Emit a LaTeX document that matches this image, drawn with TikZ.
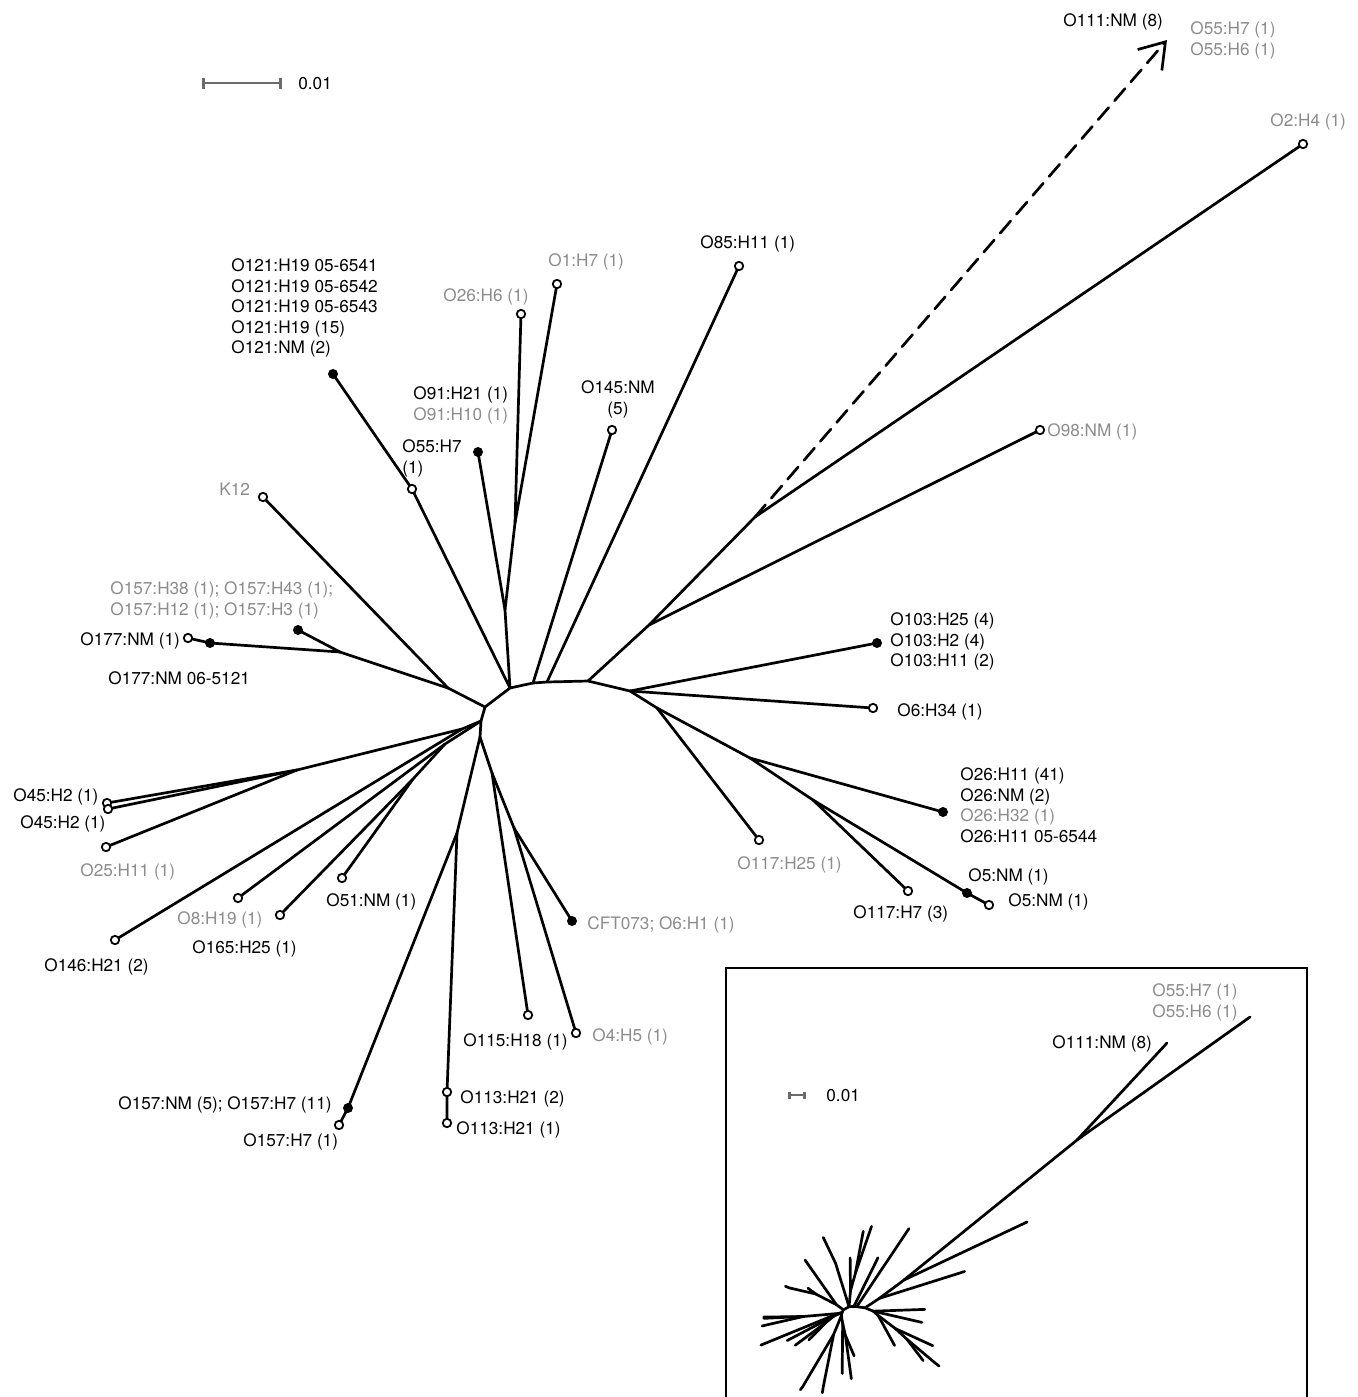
\documentclass[tikz,border=0pt]{standalone}
\usepackage{fontspec}
\setmainfont{TeX Gyre Heros}
\usetikzlibrary{arrows.meta}

\definecolor{labelgray}{gray}{0.55}
\definecolor{bargray}{gray}{0.42}
\newcommand{\labfont}{\fontsize{8.6}{10.25}\selectfont}

\tikzset{
	branch/.style={line width=1.35pt, line join=round, line cap=round},
	leaf/.style={circle, draw, fill=white, line width=0.9pt, inner sep=0pt, minimum size=4.2pt},
	multi/.style={circle, fill=black, inner sep=0pt, minimum size=5pt},
	lab/.style={anchor=base west, inner sep=0pt, font=\labfont},
	grp/.style={anchor=north west, align=left, inner sep=0pt, font=\labfont},
	faint/.style={text=labelgray},
}

% the tree (pixel coordinates, y downwards); #1 = prefix of the point names
\newcommand{\drawtree}[1]{%
	% === inner points ===
	\coordinate (#1A)   at (485,707);	\coordinate (#1L1)  at (481,721);
	\coordinate (#1L1b) at (480,737);	\coordinate (#1L0)  at (462,729);
	\coordinate (#1M1)  at (297,770);	\coordinate (#1L2)  at (445,744);
	\coordinate (#1L3)  at (413,779);	\coordinate (#1D1)  at (457,833);
	\coordinate (#1D2)  at (492,773);	\coordinate (#1D3)  at (514,828);
	\coordinate (#1J1)  at (448,688);	\coordinate (#1J2)  at (340,652);
	\coordinate (#1P1)  at (510,688);	\coordinate (#1P2)  at (533,683);
	\coordinate (#1P3)  at (547,682);	\coordinate (#1P4)  at (588,681);
	\coordinate (#1P5)  at (630,691);	\coordinate (#1P6)  at (657,708);
	\coordinate (#1Q)   at (505,610);	\coordinate (#1R)   at (515,523);
	\coordinate (#1N1)  at (649,625);	\coordinate (#1N2)  at (755,517);
	\coordinate (#1T1)  at (750,758);	\coordinate (#1T2)  at (813,800);
	% === leaf points ===
	\coordinate (#1o121)   at (333,374);	\coordinate (#1o55)    at (412,489);
	\coordinate (#1o91)    at (478,452);	\coordinate (#1o26h6)  at (521,314);
	\coordinate (#1o1)     at (557,284);	\coordinate (#1o145)   at (612,430);
	\coordinate (#1o85)    at (739,266);	\coordinate (#1o2)     at (1303,144);
	\coordinate (#1o98)    at (1040,430);	\coordinate (#1o103)   at (877,643);
	\coordinate (#1o6h34)  at (873,708);	\coordinate (#1o26)    at (943,812);
	\coordinate (#1o117a)  at (759,840);	\coordinate (#1o117b)  at (908,891);
	\coordinate (#1o5a)    at (967,893);	\coordinate (#1o5b)    at (989,905);
	\coordinate (#1cft)    at (572,921);	\coordinate (#1o4)     at (576,1033);
	\coordinate (#1o115)   at (528,1015);	\coordinate (#1o113a)  at (447,1092);
	\coordinate (#1o113b)  at (447,1123);	\coordinate (#1o157a)  at (348,1108);
	\coordinate (#1o157b)  at (339,1125);	\coordinate (#1o51)    at (342,878);
	\coordinate (#1o165)   at (280,915);	\coordinate (#1o8)     at (238,898);
	\coordinate (#1o146)   at (115,940);	\coordinate (#1o25)    at (106,847);
	\coordinate (#1o45a)   at (107,803);	\coordinate (#1o45b)   at (108,809);
	\coordinate (#1o157c)  at (298,630);	\coordinate (#1o177a)  at (188,638);
	\coordinate (#1o177b)  at (210,643);	\coordinate (#1k12)    at (263,497);
	% === branches ===
	\draw[branch] (#1L1b) -- (#1L1) -- (#1A) -- (#1P1) -- (#1P2) -- (#1P3)
		-- (#1P4) -- (#1P5) -- (#1P6);
	\draw[branch] (#1L1b) -- (#1D1) -- (#1o157a) -- (#1o157b);
	\draw[branch] (#1D1) -- (#1o113a) -- (#1o113b);
	\draw[branch] (#1L1b) -- (#1D2) -- (#1o115);
	\draw[branch] (#1D2) -- (#1D3) -- (#1o4);
	\draw[branch] (#1D3) -- (#1cft);
	\draw[branch] (#1L1) -- (#1L0) -- (#1M1) -- (#1o45a);
	\draw[branch] (#1M1) -- (#1o45b);
	\draw[branch] (#1M1) -- (#1o25);
	\draw[branch] (#1L0) -- (#1o146);
	\draw[branch] (#1L1) -- (#1L2) -- (#1o8);
	\draw[branch] (#1L2) -- (#1L3) -- (#1o165);
	\draw[branch] (#1L3) -- (#1o51);
	\draw[branch] (#1A) -- (#1J1) -- (#1k12);
	\draw[branch] (#1J1) -- (#1J2) -- (#1o157c);
	\draw[branch] (#1J2) -- (#1o177b) -- (#1o177a);
	\draw[branch] (#1P1) -- (#1o55) -- (#1o121);
	\draw[branch] (#1P1) -- (#1Q) -- (#1o91);
	\draw[branch] (#1Q) -- (#1R) -- (#1o26h6);
	\draw[branch] (#1R) -- (#1o1);
	\draw[branch] (#1P2) -- (#1o145);
	\draw[branch] (#1P3) -- (#1o85);
	\draw[branch] (#1P4) -- (#1N1) -- (#1o98);
	\draw[branch] (#1N1) -- (#1N2) -- (#1o2);
	\draw[branch] (#1P5) -- (#1o103);
	\draw[branch] (#1P5) -- (#1o6h34);
	\draw[branch] (#1P6) -- (#1o117a);
	\draw[branch] (#1P6) -- (#1T1) -- (#1o26);
	\draw[branch] (#1T1) -- (#1T2) -- (#1o117b);
	\draw[branch] (#1T2) -- (#1o5a) -- (#1o5b);
}

\begin{document}
\begin{tikzpicture}[x=0.5pt, y=-0.5pt]

		% === picture bounds ===
		\def\wmax{1358}	\def\hmax{1397}
		\useasboundingbox (0,0) rectangle (\wmax,\hmax);

		% === scale bar ===
		\coordinate (bar-l) at (202,83);	\coordinate (bar-r) at (282,83);
		\draw[bargray, line width=1.3pt, {Bar[width=5.5pt]}-{Bar[width=5.5pt]}] (bar-l) -- (bar-r);
		\node[lab] (bar-txt) at (298,89) {0.01};

		% === main tree ===
		\drawtree{}
		\coordinate (o111tip) at (1167,40);
		\draw[branch, dash pattern=on 8pt off 4.5pt, -{Straight Barb[length=12pt, width=16pt]}] (N2) -- (o111tip);

		% === leaves ===
		\foreach \n in {o55, o26h6, o1, o145, o85, o2, o98, o6h34, o117a, o117b, o5b,
			o4, o115, o113a, o113b, o157b, o51, o165, o8, o146, o25, o45a, o45b, o177a, k12}
			\node[leaf] (\n-dot) at (\n) {};
		\foreach \n in {o121, o91, o103, o26, o5a, cft, o157a, o157c, o177b}
			\node[multi] (\n-dot) at (\n) {};

		% === labels ===
		\node[lab] (l-o111) at (1063,26) {O111:NM (8)};
		\node[grp, faint] (l-o55h) at (1190,21.5) {O55:H7 (1)\\O55:H6 (1)};
		\node[lab, faint] (l-o2) at (1270,126) {O2:H4 (1)};
		\node[lab, faint] (l-o98) at (1047,436) {O98:NM (1)};
		\node[lab] (l-o85) at (700,248) {O85:H11 (1)};
		\node[lab, faint] (l-o1) at (548,266) {O1:H7 (1)};
		\node[lab, faint] (l-o26h6) at (443,301) {O26:H6 (1)};
		\node[grp] (l-o121) at (231,258.5) {O121:H19 05-6541\\O121:H19 05-6542\\O121:H19 05-6543\\O121:H19 (15)\\O121:NM (2)};
		\node[grp] (l-o91) at (413,386.5) {O91:H21 (1)\\\textcolor{labelgray}{O91:H10 (1)}};
		\node[grp] (l-o55) at (402,439.5) {O55:H7\\(1)};
		\node[grp, anchor=north, align=center] (l-o145) at (618,380.5) {O145:NM\\(5)};
		\node[lab, faint] (l-k12) at (219,495) {K12};
		\node[grp, faint] (l-o157c) at (110,581.5) {O157:H38 (1); O157:H43 (1);\\O157:H12 (1); O157:H3 (1)};
		\node[lab] (l-o177a) at (80,645) {O177:NM (1)};
		\node[lab] (l-o177b) at (108,684) {O177:NM 06-5121};
		\node[grp] (l-o103) at (890,612.5) {O103:H25 (4)\\O103:H2 (4)\\O103:H11 (2)};
		\node[lab] (l-o6h34) at (897,716) {O6:H34 (1)};
		\node[grp] (l-o26) at (960,767.5) {O26:H11 (41)\\O26:NM (2)\\\textcolor{labelgray}{O26:H32 (1)}\\O26:H11 05-6544};
		\node[lab, faint] (l-o117a) at (737,869) {O117:H25 (1)};
		\node[lab] (l-o117b) at (853,918) {O117:H7 (3)};
		\node[lab] (l-o5a) at (968,881) {O5:NM (1)};
		\node[lab] (l-o5b) at (1008,906) {O5:NM (1)};
		\node[lab] (l-o45a) at (13,801) {O45:H2 (1)};
		\node[lab] (l-o45b) at (20,828) {O45:H2 (1)};
		\node[lab, faint] (l-o25) at (80,876) {O25:H11 (1)};
		\node[lab] (l-o146) at (44,971) {O146:H21 (2)};
		\node[lab, faint] (l-o8) at (177,924) {O8:H19 (1)};
		\node[lab] (l-o165) at (192,953) {O165:H25 (1)};
		\node[lab] (l-o51) at (326,906) {O51:NM (1)};
		\node[lab, faint] (l-cft) at (587,929) {CFT073; O6:H1 (1)};
		\node[lab] (l-o115) at (463,1046) {O115:H18 (1)};
		\node[lab, faint] (l-o4) at (592,1041) {O4:H5 (1)};
		\node[lab] (l-o113a) at (460,1103) {O113:H21 (2)};
		\node[lab] (l-o113b) at (456,1134) {O113:H21 (1)};
		\node[lab] (l-o157a) at (118,1109) {O157:NM (5); O157:H7 (11)};
		\node[lab] (l-o157b) at (243,1146) {O157:H7 (1)};

		% === inset: whole tree ===
		\coordinate (box-bl) at (726,\hmax);	\coordinate (box-tl) at (726,968);
		\coordinate (box-tr) at (1307,968);	\coordinate (box-br) at (1307,\hmax);
		\draw[line width=0.6pt] (box-bl) -- (box-tl) -- (box-tr) -- (box-br);
		\begin{scope}[shift={(855,1308)}, rotate=-9, scale=0.205, shift={(-540,-690)}]
			\drawtree{i}
		\end{scope}
		\coordinate (iJ) at (1077,1140);
		\coordinate (io111) at (1167,1043);	\coordinate (io55) at (1250,1017);
		\draw[branch] (iN2) -- (iJ) -- (io55);
		\draw[branch] (iJ) -- (io111);
		\coordinate (ibar-l) at (788,1095);	\coordinate (ibar-r) at (806,1095);
		\draw[bargray, line width=1.3pt, {Bar[width=3.5pt]}-{Bar[width=3.5pt]}] (ibar-l) -- (ibar-r);
		\node[lab] (ibar-txt) at (826,1101) {0.01};
		\node[lab] (l-io111) at (1052,1048) {O111:NM (8)};
		\node[grp, faint] (l-io55) at (1152,983.5) {O55:H7 (1)\\O55:H6 (1)};
	\end{tikzpicture}
\end{document}
